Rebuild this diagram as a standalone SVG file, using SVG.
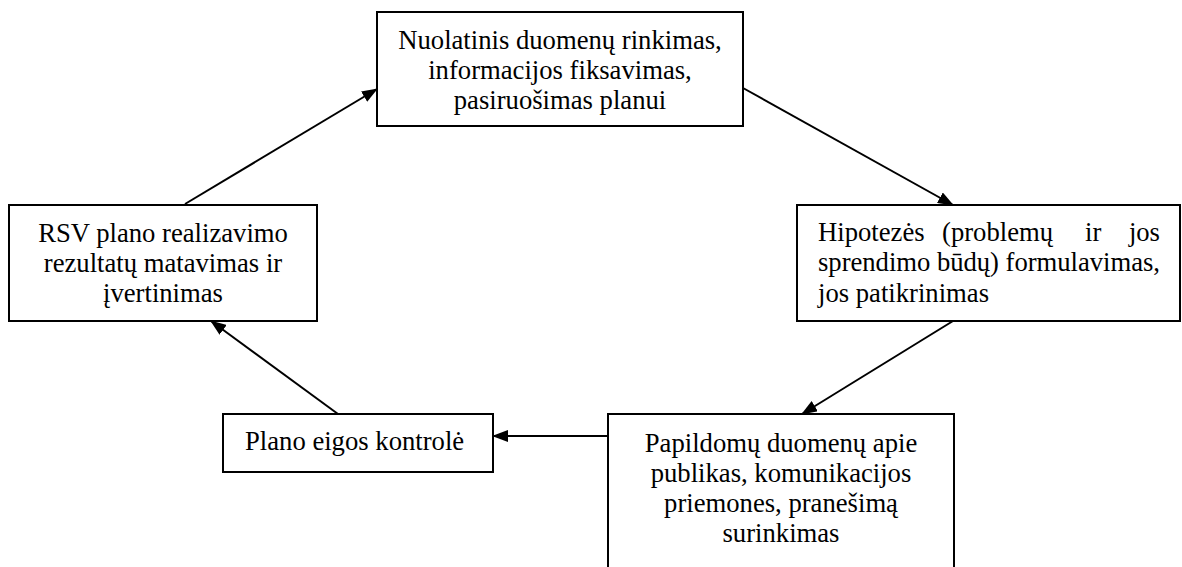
<svg xmlns="http://www.w3.org/2000/svg" width="1182" height="567" viewBox="0 0 1182 567">
<style>
.box{fill:#fff;stroke:#000;stroke-width:2}
.t{font-family:"Liberation Serif","Times New Roman",serif;font-size:26.67px;fill:#000}
.c{text-anchor:middle}
.con line{stroke:#000;stroke-width:2}
</style>
<defs>
<marker id="ah" markerWidth="16" markerHeight="12" refX="15" refY="6" orient="auto" markerUnits="userSpaceOnUse">
<path d="M0,0 L16,6 L0,12 Z" fill="#000"/>
</marker>
</defs>
<rect width="1182" height="567" fill="#fff"/>
<g class="con">
<line x1="185" y1="204" x2="377" y2="89" marker-end="url(#ah)"/>
<line x1="743" y1="88" x2="953" y2="205" marker-end="url(#ah)"/>
<line x1="953" y1="321" x2="802" y2="414" marker-end="url(#ah)"/>
<line x1="608" y1="436" x2="493" y2="436" marker-end="url(#ah)"/>
<line x1="338" y1="414" x2="211" y2="321" marker-end="url(#ah)"/>
</g>
<g id="n1">
<rect class="box" x="377" y="12" width="366" height="114"/>
<text class="t c" x="560" y="49">Nuolatinis duomenų rinkimas,</text>
<text class="t c" x="560" y="79">informacijos fiksavimas,</text>
<text class="t c" x="560" y="109">pasiruošimas planui</text>
</g>
<g id="n2">
<rect class="box" x="797" y="205" width="383" height="116"/>
<text class="t" x="818" y="241">Hipotezės</text>
<text class="t" x="942" y="241">(problemų</text>
<text class="t" x="1085" y="241">ir</text>
<text class="t" x="1160" y="241" text-anchor="end">jos</text>
<text class="t" x="818" y="271" textLength="342" lengthAdjust="spacing">sprendimo būdų) formulavimas,</text>
<text class="t" x="818" y="302">jos patikrinimas</text>
</g>
<g id="n3">
<rect class="box" x="608" y="414" width="346" height="200"/>
<text class="t c" x="781" y="452">Papildomų duomenų apie</text>
<text class="t c" x="781" y="482">publikas, komunikacijos</text>
<text class="t c" x="781" y="512">priemones, pranešimą</text>
<text class="t c" x="781" y="542">surinkimas</text>
</g>
<g id="n4">
<rect class="box" x="223" y="414" width="270" height="58"/>
<text class="t" x="245" y="450">Plano eigos kontrolė</text>
</g>
<g id="n5">
<rect class="box" x="9" y="205" width="308" height="116"/>
<text class="t c" x="163" y="242">RSV plano realizavimo</text>
<text class="t c" x="163" y="272">rezultatų matavimas ir</text>
<text class="t c" x="163" y="302">įvertinimas</text>
</g>
</svg>
